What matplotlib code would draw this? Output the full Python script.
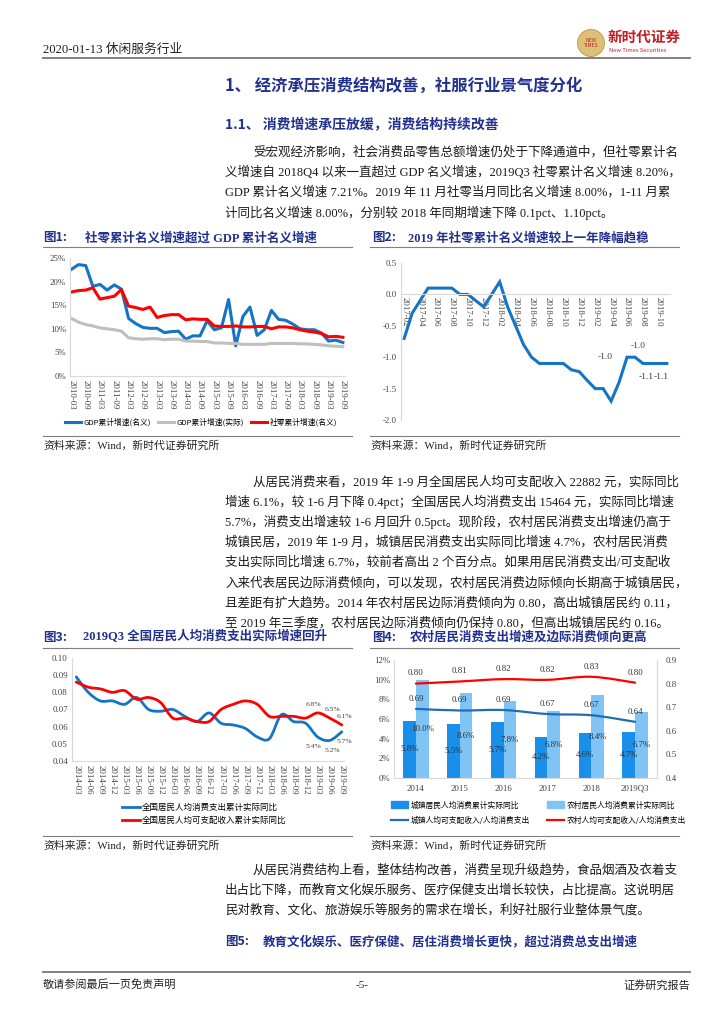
import numpy as np
import matplotlib
matplotlib.use('Agg')
import matplotlib.pyplot as plt
from matplotlib.path import Path
from matplotlib.patches import PathPatch, Ellipse, Patch
from matplotlib.lines import Line2D
from matplotlib.font_manager import FontProperties

SERIF = ['Liberation Serif', 'Noto Sans CJK SC']
SANS = ['Noto Sans CJK SC', 'DejaVu Sans']
plt.rcParams['font.family'] = SERIF
plt.rcParams['axes.unicode_minus'] = False

NAVY = '#22318F'
BLUE = '#1574C4'
RED = '#FF0000'
GREY = '#BFBFBF'
AXC = '#D9D9D9'
TXT = '#404040'

# ---- chart 1: quarterly 2010Q1 .. 2019Q3 (%)
q_ticks1 = ['2010-03', '2010-09', '2011-03', '2011-09', '2012-03', '2012-09', '2013-03',
            '2013-09', '2014-03', '2014-09', '2015-03', '2015-09', '2016-03', '2016-09',
            '2017-03', '2017-09', '2018-03', '2018-09', '2019-03', '2019-09']
gdp_nominal = [22.6, 23.6, 23.4, 19.0, 19.4, 18.2, 19.3, 18.4, 12.2, 11.1, 10.3, 10.1,
               10.1, 9.2, 9.4, 9.5, 7.8, 8.5, 8.5, 11.7, 9.8, 10.2, 16.2, 6.4,
               12.6, 14.6, 8.6, 9.8, 13.9, 12.0, 11.8, 11.0, 10.0, 9.8, 9.8, 9.1,
               7.4, 7.6, 7.1]
gdp_real = [12.2, 11.4, 10.9, 10.6, 10.2, 10.0, 9.8, 9.5, 8.1, 7.9, 7.8, 7.9,
            7.9, 7.7, 7.8, 7.8, 7.4, 7.4, 7.3, 7.3, 7.0, 7.0, 6.9, 6.9,
            6.7, 6.7, 6.7, 6.7, 6.9, 6.9, 6.9, 6.9, 6.8, 6.8, 6.7, 6.6,
            6.4, 6.3, 6.2]
retail = [17.8, 18.1, 18.2, 18.7, 16.3, 16.6, 16.9, 18.3, 14.8, 14.5, 14.1, 14.6,
          12.4, 12.8, 13.0, 13.0, 11.9, 12.1, 12.0, 12.0, 10.6, 10.5, 10.5, 10.6,
          10.4, 10.4, 10.5, 10.5, 10.0, 10.4, 10.4, 10.2, 9.8, 9.5, 9.3, 9.0,
          8.3, 8.4, 8.2]

# ---- chart 2: monthly 2017-02 .. 2019-11 (pct)
m_ticks2 = ['2017-02', '2017-04', '2017-06', '2017-08', '2017-10', '2017-12', '2018-02',
            '2018-04', '2018-06', '2018-08', '2018-10', '2018-12', '2019-02', '2019-04',
            '2019-06', '2019-08', '2019-10']
retail_diff = [-0.7, -0.3, -0.1, 0.1, 0.1, 0.1, 0.1, 0.0, 0.0, -0.1, -0.2,
               0.0, 0.2, -0.2, -0.5, -0.8, -1.0, -1.1, -1.1, -1.1, -1.1, -1.2, -1.23,
               -1.37, -1.5, -1.5, -1.7, -1.4, -1.0, -1.0, -1.1, -1.1, -1.1, -1.1]

# ---- chart 3: quarterly 2014Q1 .. 2019Q3
q_ticks3 = ['2014-03', '2014-06', '2014-09', '2014-12', '2015-03', '2015-06', '2015-09',
            '2015-12', '2016-03', '2016-06', '2016-09', '2016-12', '2017-03', '2017-06',
            '2017-09', '2017-12', '2018-03', '2018-06', '2018-09', '2018-12', '2019-03',
            '2019-06', '2019-09']
expend = [0.089, 0.080, 0.075, 0.075, 0.073, 0.077, 0.070, 0.069, 0.070, 0.066, 0.063,
          0.068, 0.062, 0.061, 0.059, 0.054, 0.053, 0.067, 0.063, 0.062, 0.054, 0.052, 0.057]
income = [0.086, 0.083, 0.082, 0.080, 0.081, 0.076, 0.077, 0.074, 0.065, 0.065, 0.063,
          0.063, 0.070, 0.073, 0.075, 0.073, 0.066, 0.066, 0.066, 0.065, 0.068, 0.065, 0.061]

# ---- chart 4
years4 = ['2014', '2015', '2016', '2017', '2018', '2019Q3']
urban_growth = [5.8, 5.5, 5.7, 4.2, 4.6, 4.7]
rural_growth = [10.0, 8.6, 7.8, 6.8, 8.4, 6.7]
urban_ratio = [0.693, 0.686, 0.688, 0.671, 0.666, 0.638]
rural_ratio = [0.800, 0.809, 0.819, 0.816, 0.829, 0.804]

W, H = 724, 1024
fig = plt.figure(figsize=(W / 100, H / 100), dpi=100)


def rect(x0, y0, x1, y1):
    return [x0 / W, 1 - y1 / H, (x1 - x0) / W, (y1 - y0) / H]


def put(x, y, s, **kw):
    kw.setdefault('va', 'center')
    fig.text(x / W, 1 - y / H, s, **kw)


def rule(x0, x1, y, color='#7F7F7F', lw=0.8):
    fig.add_artist(Line2D([x0 / W, x1 / W], [1 - y / H] * 2, color=color, lw=lw))


def smooth(ax, xs, ys, color, lw):
    # excel-like smoothed line: catmull-rom through the data as bezier curves
    pts = np.column_stack([xs, ys]).astype(float)
    ext = np.vstack([pts[0], pts, pts[-1]])
    verts, codes = [pts[0]], [Path.MOVETO]
    for i in range(len(pts) - 1):
        p0, p1, p2, p3 = ext[i], ext[i + 1], ext[i + 2], ext[i + 3]
        verts += [p1 + (p2 - p0) / 6, p2 - (p3 - p1) / 6, p2]
        codes += [Path.CURVE4] * 3
    ax.add_patch(PathPatch(Path(verts, codes), fill=False, edgecolor=color, lw=lw,
                           capstyle='round', joinstyle='round'))


def style(ax):
    for s in ['top', 'right']:
        ax.spines[s].set_visible(False)
    for s in ['left', 'bottom']:
        ax.spines[s].set_color(AXC)
        ax.spines[s].set_linewidth(0.8)
    ax.tick_params(length=0, labelsize=6.3, labelcolor=TXT, pad=3)


leg_small = FontProperties(family=SANS, size=5.6)
leg_mid = FontProperties(family=SANS, size=6.1)

# ---------------- page header
logo = Ellipse((591 / W, 1 - 43 / H), 27 / W, 27 / H, transform=fig.transFigure,
               facecolor='#DCC07A', edgecolor='#B8953F', lw=0.6)
fig.add_artist(logo)
put(591, 43, 'NEW\nTIMES', color='#C21F24', fontsize=3.6, ha='center', family=SANS,
    linespacing=0.9)
put(608, 37, '新时代证券', color='#C21F24', fontsize=10.5, family=SANS, weight='bold')
put(609, 50, 'New Times Securities', color='#C21F24', fontsize=4.2, family=SANS)
put(43, 50, '2020-01-13 休闲服务行业', fontsize=9.2, color='#222222')
rule(43, 690, 58, color='#808080', lw=1.4)

put(225, 86, '1、 经济承压消费结构改善，社服行业景气度分化', fontsize=11.8,
    color=NAVY, weight='bold', family=SANS)
put(225, 125, '1.1、 消费增速承压放缓，消费结构持续改善', fontsize=10,
    color=NAVY, weight='bold', family=SANS)

para1 = ['受宏观经济影响，社会消费品零售总额增速仍处于下降通道中，但社零累计名',
         '义增速自 2018Q4 以来一直超过 GDP 名义增速，2019Q3 社零累计名义增速 8.20%，',
         'GDP 累计名义增速 7.21%。2019 年 11 月社零当月同比名义增速 8.00%，1-11 月累',
         '计同比名义增速 8.00%，分别较 2018 年同期增速下降 0.1pct、1.10pct。']
para2 = ['从居民消费来看，2019 年 1-9 月全国居民人均可支配收入 22882 元，实际同比',
         '增速 6.1%，较 1-6 月下降 0.4pct；全国居民人均消费支出 15464 元，实际同比增速',
         '5.7%，消费支出增速较 1-6 月回升 0.5pct。现阶段，农村居民消费支出增速仍高于',
         '城镇民居，2019 年 1-9 月，城镇居民消费支出实际同比增速 4.7%，农村居民消费',
         '支出实际同比增速 6.7%，较前者高出 2 个百分点。如果用居民消费支出/可支配收',
         '入来代表居民边际消费倾向，可以发现，农村居民消费边际倾向长期高于城镇居民，',
         '且差距有扩大趋势。2014 年农村居民边际消费倾向为 0.80，高出城镇居民约 0.11，',
         '至 2019 年三季度，农村居民边际消费倾向仍保持 0.80，但高出城镇居民约 0.16。']
para3 = ['从居民消费结构上看，整体结构改善，消费呈现升级趋势，食品烟酒及衣着支',
         '出占比下降，而教育文化娱乐服务、医疗保健支出增长较快，占比提高。这说明居',
         '民对教育、文化、旅游娱乐等服务的需求在增长，利好社服行业整体景气度。']


def paragraph(lines, y0):
    for k, line in enumerate(lines):
        put(253 if k == 0 else 225, y0 + k * 20.2, line, fontsize=9, color='#1A1A1A')


paragraph(para1, 152)
paragraph(para2, 482)
paragraph(para3, 870)


def fig_title(x, y, num, text, gap=42):
    put(x, y, num, fontsize=9, color=NAVY, weight='bold', family=SANS)
    put(x + gap, y, text, fontsize=9, color=NAVY, weight='bold')


fig_title(43, 238, '图1:', '社零累计名义增速超过 GDP 累计名义增速')
fig_title(372, 238, '图2:', '2019 年社零累计名义增速较上一年降幅趋稳', gap=36)
fig_title(43, 637, '图3:', '2019Q3 全国居民人均消费支出实际增速回升', gap=40)
fig_title(372, 637, '图4:', '农村居民消费支出增速及边际消费倾向更高', gap=38)
fig_title(225, 942, '图5:', '教育文化娱乐、医疗保健、居住消费增长更快，超过消费总支出增速', gap=38)

for x0, x1 in [(43, 352), (370, 679)]:
    rule(x0, x1, 247)
    rule(x0, x1, 436)
    rule(x0, x1, 648)
    rule(x0, x1, 836)
    put(x0, 446, '资料来源：Wind，新时代证券研究所', fontsize=7.8, color='#222222')
    put(x0, 846, '资料来源：Wind，新时代证券研究所', fontsize=7.8, color='#222222')

# ---------------- chart 1
ax1 = fig.add_axes(rect(70, 258, 345, 376))
style(ax1)
x1 = np.arange(len(gdp_nominal))
ax1.plot(x1, gdp_nominal, color=BLUE, lw=2.2, label='GDP累计增速(名义)')
ax1.plot(x1, gdp_real, color=GREY, lw=2.2, label='GDP累计增速(实际)')
ax1.plot(x1, retail, color=RED, lw=2.2, label='社零累计增速(名义)')
ax1.set_xlim(-0.2, len(gdp_nominal) - 0.7)
ax1.set_ylim(0, 25)
ax1.set_yticks(range(0, 26, 5))
ax1.set_yticklabels([f'{v}%' for v in range(0, 26, 5)])
ax1.set_xticks(np.arange(0, len(gdp_nominal), 2))
ax1.set_xticklabels(q_ticks1, rotation=-90, va='top', ha='center')
fig.legend(handles=ax1.get_lines(), loc='center', bbox_to_anchor=(201 / W, 1 - 422 / H),
           ncol=3, frameon=False, prop=leg_small, handlelength=2.0, handletextpad=0.3,
           columnspacing=1.0)

# ---------------- chart 2
ax2 = fig.add_axes(rect(401, 263, 670, 420))
style(ax2)
x2 = np.arange(len(retail_diff))
ax2.plot(x2, retail_diff, color=BLUE, lw=2.2, solid_joinstyle='miter')
ax2.spines['bottom'].set_position(('data', 0))
ax2.set_xlim(-0.4, len(retail_diff) - 0.6)
ax2.set_ylim(-2.0, 0.5)
ax2.set_yticks(np.arange(-2.0, 0.51, 0.5))
ax2.set_yticklabels([f'{v:.1f}' for v in np.arange(-2.0, 0.51, 0.5)])
ax2.set_xticks(np.arange(0, len(retail_diff), 2))
ax2.set_xticklabels(m_ticks2, rotation=-90, va='top', ha='center')
ax2.tick_params(axis='x', pad=2)
for idx, dx, dy in [(28, -10, 0), (29, 2, 8), (30, 2, -10), (32, 2, -10)]:
    ax2.annotate(f'{retail_diff[idx]:.1f}', (idx, retail_diff[idx]), xytext=(dx, dy),
                 textcoords='offset points', ha='center' if dx >= 0 else 'right',
                 va='center', fontsize=6.8, color=TXT)

# ---------------- chart 3
ax3 = fig.add_axes(rect(72, 658, 344, 761))
style(ax3)
x3 = np.arange(len(expend))
smooth(ax3, x3, expend, BLUE, 2.0)
smooth(ax3, x3, income, RED, 2.0)
ax3.set_xlim(-0.35, len(expend) - 0.82)
ax3.set_ylim(0.04, 0.10)
ax3.set_yticks(np.arange(0.04, 0.1001, 0.01))
ax3.set_yticklabels([f'{v:.2f}' for v in np.arange(0.04, 0.1001, 0.01)])
ax3.set_xticks(x3)
ax3.set_xticklabels(q_ticks3, rotation=-90, va='top', ha='center')
for idx, dx in [(20, -3), (21, 2), (22, 2)]:
    ax3.annotate(f'{income[idx] * 100:.1f}%', (idx, income[idx]), xytext=(dx, 6),
                 textcoords='offset points', ha='center', va='center', fontsize=5.4, color=TXT)
    ax3.annotate(f'{expend[idx] * 100:.1f}%', (idx, expend[idx]), xytext=(dx, -7),
                 textcoords='offset points', ha='center', va='center', fontsize=5.4, color=TXT)
h3 = [Line2D([], [], color=BLUE, lw=2.0), Line2D([], [], color=RED, lw=2.0)]
fig.legend(handles=h3, labels=['全国居民人均消费支出累计实际同比', '全国居民人均可支配收入累计实际同比'],
           loc='center left', bbox_to_anchor=(114 / W, 1 - 814 / H), ncol=1, frameon=False,
           prop=leg_mid, handlelength=2.2, handletextpad=0.2, labelspacing=0.55)

# ---------------- chart 4
ax4 = fig.add_axes(rect(394, 660, 657, 778))
style(ax4)
ax4.spines['right'].set_visible(True)
ax4.spines['right'].set_color(AXC)
x4 = np.arange(len(years4))
bw = 0.29
DARK_BAR, LIGHT_BAR = '#1A8FEA', '#80C4F6'
ax4.bar(x4 - bw / 2, urban_growth, width=bw, color=DARK_BAR)
ax4.bar(x4 + bw / 2, rural_growth, width=bw, color=LIGHT_BAR)
for i in x4:
    ax4.text(i - bw / 2, urban_growth[i] / 2, f'{urban_growth[i]:.1f}%', ha='center',
             va='center', fontsize=6.3, color='#303030')
    ax4.text(i + bw / 2, rural_growth[i] / 2, f'{rural_growth[i]:.1f}%', ha='center',
             va='center', fontsize=6.3, color='#303030')
ax4.set_xlim(-0.5, len(years4) - 0.5)
ax4.set_ylim(0, 12)
ax4.set_yticks(range(0, 13, 2))
ax4.set_yticklabels([f'{v}%' for v in range(0, 13, 2)])
ax4.set_xticks(x4)
ax4.set_xticklabels(years4)
ax4.tick_params(axis='x', pad=5)

ax4r = ax4.twinx()
for s in ['top', 'left', 'bottom']:
    ax4r.spines[s].set_visible(False)
ax4r.spines['right'].set_color(AXC)
ax4r.tick_params(length=0, labelsize=6.3, labelcolor=TXT, pad=6)
ax4r.set_ylim(0.4, 0.9)
ax4r.set_yticks(np.arange(0.4, 0.901, 0.1))
ax4r.set_yticklabels([f'{v:.1f}' for v in np.arange(0.4, 0.901, 0.1)])
smooth(ax4r, x4, urban_ratio, '#1F6EB5', 1.6)
smooth(ax4r, x4, rural_ratio, RED, 1.6)
for i in x4:
    ax4r.text(i, urban_ratio[i] + 0.043, f'{urban_ratio[i]:.2f}', ha='center', va='center',
              fontsize=6.3, color='#303030')
    ax4r.text(i, rural_ratio[i] + 0.043, f'{rural_ratio[i]:.2f}', ha='center', va='center',
              fontsize=6.3, color='#303030')
h4 = [Patch(color=DARK_BAR), Line2D([], [], color='#1F6EB5', lw=1.6),
      Patch(color=LIGHT_BAR), Line2D([], [], color=RED, lw=1.6)]
l4 = ['城镇居民人均消费累计实际同比', '城镇人均可支配收入/人均消费支出',
      '农村居民人均消费累计实际同比', '农村人均可支配收入/人均消费支出']
fig.legend(handles=h4, labels=l4, loc='center left', bbox_to_anchor=(384 / W, 1 - 813 / H),
           ncol=2, frameon=False, prop=leg_small, handlelength=2.2, handleheight=1.0,
           handletextpad=0.3, columnspacing=2.2, labelspacing=0.9)

# ---------------- footer
rule(43, 690, 972, color='#808080', lw=1.4)
put(43, 985, '敬请参阅最后一页免责声明', fontsize=8, color='#222222')
put(362, 985, '-5-', fontsize=8, color='#222222', ha='center')
put(690, 985, '证券研究报告', fontsize=8, color='#222222', ha='right')

fig.savefig('out.png', dpi=100)
